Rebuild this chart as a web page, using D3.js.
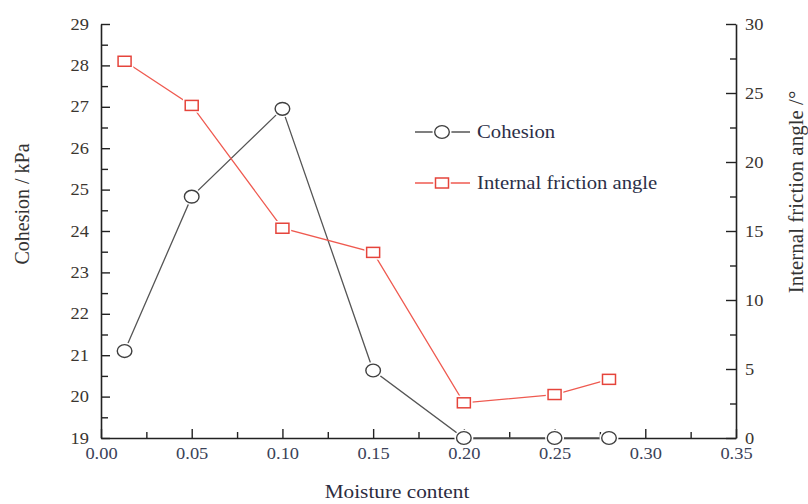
<!DOCTYPE html>
<html>
<head>
<meta charset="utf-8">
<script src="https://cdn.jsdelivr.net/npm/d3@7"></script>
<style>
  html, body { margin: 0; padding: 0; background: #fff; }
  svg { display: block; }
  text { font-family: "Liberation Serif", "Times New Roman", serif; }
</style>
</head>
<body>
<svg id="chart" width="808" height="504"></svg>
<script>
// Moisture content of the samples
const moisture = [0.013, 0.05, 0.10, 0.15, 0.20, 0.25, 0.28];
// Cohesion (kPa), left axis
const cohesion = [21.1, 24.83, 26.95, 20.63, 19.0, 19.0, 19.0];
// Internal friction angle (degrees), right axis
const friction = [27.3, 24.1, 15.2, 13.45, 2.55, 3.15, 4.25];

const xTicks = [0, 0.05, 0.10, 0.15, 0.20, 0.25, 0.30, 0.35];
const leftTicks = [19, 20, 21, 22, 23, 24, 25, 26, 27, 28, 29];
const rightTicks = [0, 5, 10, 15, 20, 25, 30];
const seriesNames = ["Cohesion", "Internal friction angle"];

const svg = d3.select("#chart");
const SX = 1.15;            // horizontal glyph stretch used for the labels
const axisColor = "#222";
const greyLine = "#555", greyMark = "#3f3f3f";
const redLine = "#ef5a50", redMark = "#e5443b";

const x = d3.scaleLinear().domain([0, 0.35]).range([101, 736]);
const yL = d3.scaleLinear().domain([19, 29]).range([438, 24]);
const yR = d3.scaleLinear().domain([0, 30]).range([438, 24]);

function styleAxis(g) {
  g.select(".domain").attr("stroke", axisColor).attr("stroke-width", 1.6);
  g.selectAll(".tick line").attr("stroke", axisColor).attr("stroke-width", 1.4);
  g.selectAll(".tick text")
    .attr("font-family", "Liberation Serif, Times New Roman, serif")
    .attr("font-size", 16);
}

// minor ticks
const xMinor = d3.range(0.025, 0.35, 0.05);
svg.append("g").attr("transform", "translate(0,438)")
  .call(d3.axisBottom(x).tickValues(xMinor).tickSize(-6).tickFormat(""))
  .call(styleAxis).select(".domain").remove();
svg.append("g").attr("transform", "translate(101,0)")
  .call(d3.axisLeft(yL).tickValues(d3.range(19.5, 29, 1)).tickSize(-7).tickFormat(""))
  .call(styleAxis).select(".domain").remove();
svg.append("g").attr("transform", "translate(736,0)")
  .call(d3.axisRight(yR).tickValues(d3.range(2.5, 30, 5)).tickSize(-6).tickFormat(""))
  .call(styleAxis).select(".domain").remove();

// major axes
const gx = svg.append("g").attr("transform", "translate(0,438)")
  .call(d3.axisBottom(x).tickValues(xTicks).tickSize(-9).tickSizeOuter(0)
        .tickPadding(10).tickFormat(d3.format(".2f")))
  .call(styleAxis);
gx.selectAll(".tick text").attr("fill", "#3a4258")
  .attr("transform", `scale(${SX},1)`);

const gl = svg.append("g").attr("transform", "translate(101,0)")
  .call(d3.axisLeft(yL).tickValues(leftTicks).tickSize(-9).tickSizeOuter(0)
        .tickPadding(12 / SX).tickFormat(d3.format("d")))
  .call(styleAxis);
gl.selectAll(".tick text").attr("fill", "#3a3530")
  .attr("transform", `scale(${SX},1)`);

const gr = svg.append("g").attr("transform", "translate(736,0)")
  .call(d3.axisRight(yR).tickValues(rightTicks).tickSize(-10).tickSizeOuter(0)
        .tickPadding(9 / SX).tickFormat(d3.format("d")))
  .call(styleAxis);
gr.selectAll(".tick text").attr("fill", "#3a3530")
  .attr("transform", `scale(${SX},1)`);

// axis titles
svg.append("text")
  .attr("transform", "translate(29,204) rotate(-90)")
  .attr("text-anchor", "middle").attr("font-size", 20).attr("fill", "#333")
  .text("Cohesion / kPa");
svg.append("text")
  .attr("transform", "translate(803,192) rotate(-90)")
  .attr("text-anchor", "middle").attr("font-size", 21).attr("fill", "#333")
  .text("Internal friction angle /°");
svg.append("text")
  .attr("transform", `translate(397,498) scale(${SX},1)`)
  .attr("text-anchor", "middle").attr("font-size", 18.5).attr("fill", "#2c2c40")
  .text("Moisture content");

// markers
function circleMark(g, cx, cy) {
  g.append("ellipse").attr("cx", cx).attr("cy", cy).attr("rx", 7.5).attr("ry", 6.6)
    .attr("fill", "#fff").attr("stroke", "#fff").attr("stroke-width", 4);
  g.append("ellipse").attr("cx", cx).attr("cy", cy).attr("rx", 7.3).attr("ry", 6.4)
    .attr("fill", "#fff").attr("stroke", greyMark).attr("stroke-width", 1.4);
}
function squareMark(g, cx, cy) {
  g.append("rect").attr("x", cx - 6.5).attr("y", cy - 5).attr("width", 13).attr("height", 10)
    .attr("fill", "#fff").attr("stroke", "#fff").attr("stroke-width", 4.5);
  g.append("rect").attr("x", cx - 6.5).attr("y", cy - 5).attr("width", 13).attr("height", 10)
    .attr("fill", "#fff").attr("stroke", redMark).attr("stroke-width", 1.5);
}

const lineL = d3.line().x((d, i) => x(moisture[i])).y(d => yL(d));
const lineR = d3.line().x((d, i) => x(moisture[i])).y(d => yR(d));

const gLines = svg.append("g");
gLines.append("path").datum(cohesion).attr("d", lineL)
  .attr("fill", "none").attr("stroke", greyLine).attr("stroke-width", 1.3);
gLines.append("path").datum(friction).attr("d", lineR)
  .attr("fill", "none").attr("stroke", redLine).attr("stroke-width", 1.3);

const gMarks = svg.append("g");
cohesion.forEach((v, i) => circleMark(gMarks, x(moisture[i]), yL(v)));
friction.forEach((v, i) => squareMark(gMarks, x(moisture[i]), yR(v)));

// legend
const legend = svg.append("g");
const legendRows = [
  { name: seriesNames[0], y: 132, line: greyLine, mark: circleMark },
  { name: seriesNames[1], y: 183, line: redLine, mark: squareMark }
];
legendRows.forEach(r => {
  legend.append("line").attr("x1", 415).attr("x2", 470).attr("y1", r.y).attr("y2", r.y)
    .attr("stroke", r.line).attr("stroke-width", 1.4);
  r.mark(legend, 442, r.y);
  legend.append("text")
    .attr("transform", `translate(477,${r.y + 6}) scale(${SX},1)`)
    .attr("font-size", 18).attr("fill", "#2c2f48")
    .text(r.name);
});
</script>
</body>
</html>
